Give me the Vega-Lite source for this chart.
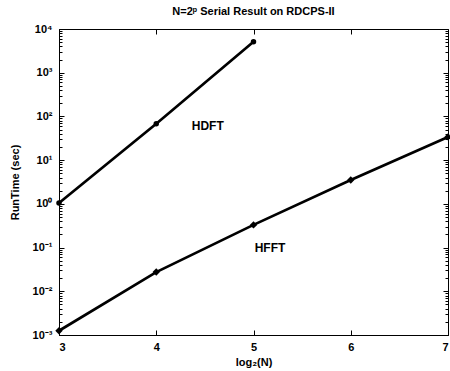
{
  "$schema": "https://vega.github.io/schema/vega-lite/v6.json",
  "autosize": "none",
  "width": 389,
  "height": 306,
  "padding": {"left": 59, "top": 29, "right": 2, "bottom": 36},
  "background": "white",
  "title": {"text": "N=2ᵖ Serial Result on RDCPS-II", "font": "Liberation Sans", "fontSize": 11, "fontWeight": "bold", "color": "black", "offset": 6, "anchor": "middle"},
  "config": {
    "view": {"stroke": "black", "strokeWidth": 1},
    "axis": {"labelFont": "Liberation Sans", "labelFontWeight": "bold", "labelFontSize": 11, "labelColor": "black", "titleFont": "Liberation Sans", "titleFontWeight": "bold", "titleFontSize": 11, "titleColor": "black", "domainColor": "black", "tickColor": "black", "grid": false}
  },
  "datasets": {
    "runs": [
      {"series": "HDFT", "log2N": 3, "time": 1.05},
      {"series": "HDFT", "log2N": 4, "time": 68},
      {"series": "HDFT", "log2N": 5, "time": 5100},
      {"series": "HFFT", "log2N": 3, "time": 0.00125},
      {"series": "HFFT", "log2N": 4, "time": 0.0275},
      {"series": "HFFT", "log2N": 5, "time": 0.33},
      {"series": "HFFT", "log2N": 6, "time": 3.5},
      {"series": "HFFT", "log2N": 7, "time": 34}
    ],
    "labels": [
      {"label": "HDFT", "log2N": 4.53, "time": 60},
      {"label": "HFFT", "log2N": 5.17, "time": 0.1}
    ]
  },
  "resolve": {"axis": {"x": "independent", "y": "independent"}},
  "layer": [
    {
      "data": {"name": "runs"},
      "mark": {"type": "line", "color": "black", "strokeWidth": 2.7, "point": false},
      "encoding": {
        "x": {"field": "log2N", "type": "quantitative", "scale": {"domain": [3, 7], "nice": false, "zero": false},
              "axis": {"orient": "bottom", "values": [3, 4, 5, 6, 7], "tickSize": -5, "labelPadding": 11, "title": "log₂(N)", "titlePadding": 4, "format": "d"}},
        "y": {"field": "time", "type": "quantitative", "scale": {"type": "log", "domain": [0.001, 10000], "nice": false},
              "axis": {"orient": "left", "values": [0.001, 0.01, 0.1, 1, 10, 100, 1000, 10000], "tickSize": -5, "labelPadding": 12, "title": "RunTime (sec)", "titlePadding": 12,
                       "labelExpr": "round(log(datum.value)/LN10) == 4 ? '10⁴' : round(log(datum.value)/LN10) == 3 ? '10³' : round(log(datum.value)/LN10) == 2 ? '10²' : round(log(datum.value)/LN10) == 1 ? '10¹' : round(log(datum.value)/LN10) == 0 ? '10⁰' : round(log(datum.value)/LN10) == -1 ? '10⁻¹' : round(log(datum.value)/LN10) == -2 ? '10⁻²' : '10⁻³'"}},
        "detail": {"field": "series"}
      }
    },
    {
      "data": {"name": "runs"},
      "mark": {"type": "point", "filled": true, "color": "black", "opacity": 1},
      "encoding": {
        "x": {"field": "log2N", "type": "quantitative", "axis": {"orient": "top", "values": [3, 4, 5, 6, 7], "tickSize": -5, "labels": false, "title": null, "domain": false}},
        "y": {"field": "time", "type": "quantitative", "scale": {"type": "log"}, "axis": {"orient": "right", "values": [0.001, 0.01, 0.1, 1, 10, 100, 1000, 10000], "tickSize": -5, "labels": false, "title": null, "domain": false}},
        "shape": {"field": "series", "type": "nominal", "scale": {"domain": ["HDFT", "HFFT"], "range": ["circle", "diamond"]}, "legend": null},
        "size": {"field": "series", "type": "nominal", "scale": {"domain": ["HDFT", "HFFT"], "range": [30, 55]}, "legend": null}
      }
    },
    {
      "data": {"name": "runs"},
      "mark": {"type": "point", "opacity": 0},
      "encoding": {
        "x": {"field": "log2N", "type": "quantitative", "axis": null},
        "y": {"field": "time", "type": "quantitative", "scale": {"type": "log"}, "axis": {"orient": "left", "values": [0.002,0.003,0.004,0.005,0.006,0.007,0.008,0.009,0.02,0.03,0.04,0.05,0.06,0.07,0.08,0.09,0.2,0.3,0.4,0.5,0.6,0.7,0.8,0.9,2,3,4,5,6,7,8,9,20,30,40,50,60,70,80,90,200,300,400,500,600,700,800,900,2000,3000,4000,5000,6000,7000,8000,9000], "tickSize": -3, "labels": false, "title": null, "domain": false}}
      }
    },
    {
      "data": {"name": "runs"},
      "mark": {"type": "point", "opacity": 0},
      "encoding": {
        "x": {"field": "log2N", "type": "quantitative", "axis": null},
        "y": {"field": "time", "type": "quantitative", "scale": {"type": "log"}, "axis": {"orient": "right", "values": [0.002,0.003,0.004,0.005,0.006,0.007,0.008,0.009,0.02,0.03,0.04,0.05,0.06,0.07,0.08,0.09,0.2,0.3,0.4,0.5,0.6,0.7,0.8,0.9,2,3,4,5,6,7,8,9,20,30,40,50,60,70,80,90,200,300,400,500,600,700,800,900,2000,3000,4000,5000,6000,7000,8000,9000], "tickSize": -3, "labels": false, "title": null, "domain": false}}
      }
    },
    {
      "data": {"name": "labels"},
      "mark": {"type": "text", "font": "Liberation Sans", "fontWeight": "bold", "fontSize": 12, "color": "black", "align": "center", "baseline": "middle"},
      "encoding": {
        "x": {"field": "log2N", "type": "quantitative", "axis": null},
        "y": {"field": "time", "type": "quantitative", "scale": {"type": "log"}, "axis": null},
        "text": {"field": "label"}
      }
    }
  ]
}
